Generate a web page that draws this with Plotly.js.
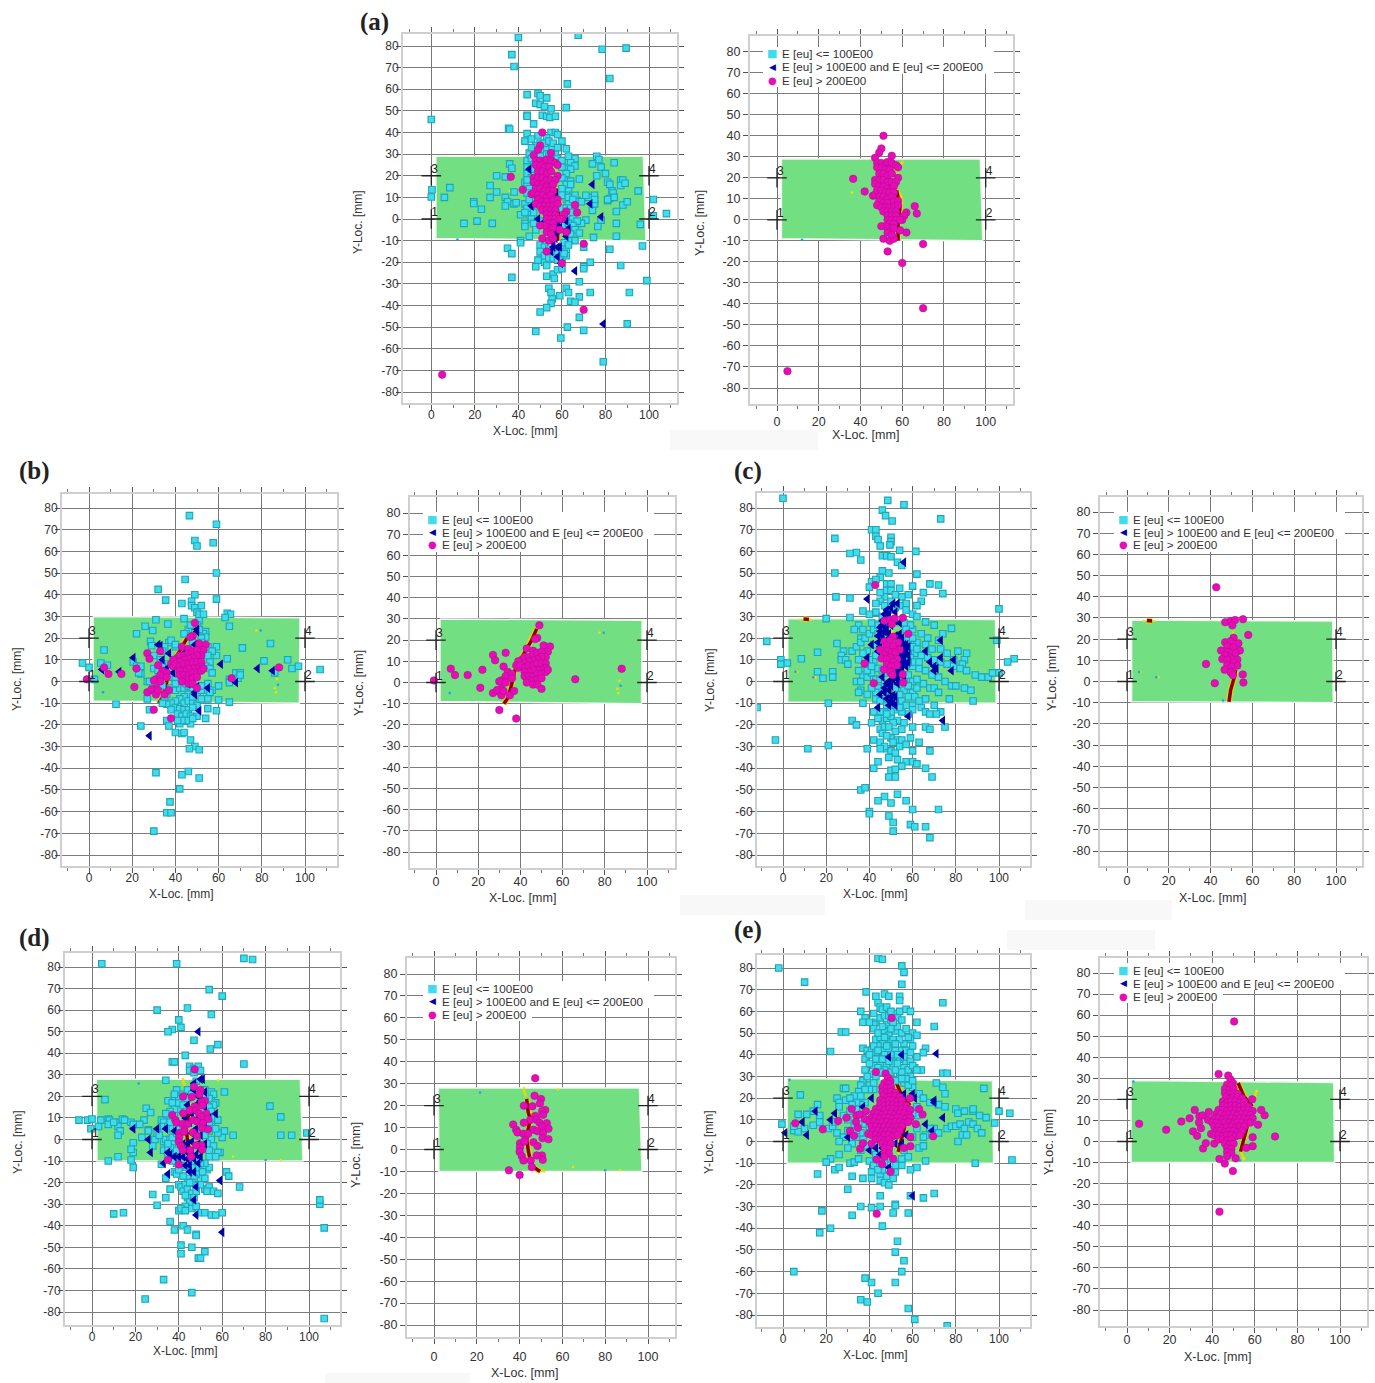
<!DOCTYPE html>
<html lang="en">
<head>
<meta charset="UTF-8">
<title>AE event locations</title>
<script src="https://cdn.plot.ly/plotly-3.0.1.min.js"></script>
<style>
  body { margin: 0; background: #fff; }
</style>
</head>
<body>
<div id="chart" style="width:1375px;height:1383px"></div>
<script>
// sensors and tick labels
var sensorX = [0, 100, 0, 100];
var sensorY = [0, 0, 20, 20];
var sensorLabels = ['1', '2', '3', '4'];
var yTicks = [-80, -70, -60, -50, -40, -30, -20, -10, 0, 10, 20, 30, 40, 50, 60, 70, 80];
var legendLabels = ['E [eu] &lt;= 100E00', 'E [eu] &gt; 100E00 and E [eu] &lt;= 200E00', 'E [eu] &gt; 200E00'];

// (a)
var aLow = [[40,84],[67.5,85],[37,76],[38,70.5],[78.5,78.5],[89.5,79],[82,65],[62.5,62.5],[44,57.5],[49,58],[50,57],[53,56],[48,53.5],[50,53],[52,52],[55,51],[62,51.5],[44,48],[44,47.5],[51,48],[53,47.5],[54.5,47],[57,47.5],[47,44],[35.5,42],[36,41.5],[0,46],[44,39.5],[55,40],[57,40],[58,39],[49,38.5],[53,37.5],[43,36],[60,36],[50,35],[53,33],[55.5,33],[62,32.5],[45,30.5],[48,31],[52,30],[57,30],[63,29],[66,28],[76,29],[77,27.5],[44,27],[47,27],[36,25.5],[37,23.5],[64,26],[66,24.5],[74,25.5],[84,26],[62,23.5],[64,23],[78,24],[80,21],[44,21],[30,20],[34,19.5],[76,20],[43,17],[44,16],[27,15.5],[8.5,14.5],[0.3,13.5],[0,10.2],[6,10],[30,12.5],[38,12.5],[27,10],[34,10],[35,8],[19.5,8],[19.5,7.2],[34,6],[38,7],[39,7.5],[43,7],[23,4.5],[41,2],[45,2],[15,-2],[21,-1],[28,-2],[46,0],[43,-2],[43,-3.5],[45,-8],[41,-10],[41,-11],[35,-13.5],[37,-16],[37,-27],[48,-22],[50,-18.5],[52,-20],[53,-21.5],[53,-26.5],[56,-25.5],[56.5,-27.5],[58,-23.5],[60,-23],
  [62,18],[64,17.5],[68,18.5],[81,17],[82,16],[87,18],[88,18],[87,15.5],[89,16.5],[83,13],[83.5,12],[95,13],[102,9],[108,2.5],[102,1.5],[97,-12.5],[96,-2.5],[85,3.5],[88,6.5],[90,8],[85,-2],[85,-8],[74.5,-8.5],[76.5,-3.5],[74,4],[78,-0.5],[71,-0.5],[67,-2],[69,-2],[75,7],[75,11],[75,9],[72,10],[71,11],[67,8.5],[69,8],[62,12],[63,14],[66,11],[62,9],[63,7],[81,8.5],[82,9.5],[84,10],[81,9],[70,-13],[82,-14],[87,-21.5],[73,-20],[70,-22],[70,-23],[99,-28.5],[91,-34],[73,-34],[68,-29],[68,-36],[62,-32],[63,-34],[64,-38],[66,-38.5],[59,-35.5],[54,-32],[55,-34],[55.5,-37],[55,-39],[53,-41],[50,-43],[48,-52],[62.5,-50],[68,-45.5],[70,-51.5],[90,-48.5],[59.5,-55],[79,-66],
  [46,37],[48,34],[50,32],[52,35],[54,36],[56,35],[58,33],[46,33],[48,29],[46,28],[50,29],[54,29],[58,28],[60,27],[44,24],[46,23],[60,24],[62,21],[46,19],[44,18],[60,19],[62,16],[64,16],[45,14],[44,12],[46,11],[60,14],[60,11],[63,10],[65,9],[45,9],[46,5],[44,5],[43,3],[47,3],[60,5],[62,5],[64,5],[66,5],[64,3],[62,1],[65,0],[67,-1],[47,-2],[48,-5],[50,-1],[61,-3],[63,-2],[65,-3],[66,-5],[64,-7],[68,-6.5],[66,-10],[63,-10],[61,-11],[52,-11],[50,-12],[52,-13],[54,-14],[56,-15],[58,-16],[60,-15],[62,-14],[63,-12],[50,-15],[52,-17],[54,-18],[56,-18],[58,-19],[60,-18],[62,-17],[61,-16],[49,-19]];
var aMid = [[45,23],[46,6],[49,0],[51,-2],[55,-3],[58,-2],[58,-3],[59,-4],[62,-1],[63,-4.5],[62,-8],[57,-9],[56,-11],[56,-13],[58,-13],[59,-13],[55,-15],[58,-17.5],[59.5,-20.5],[66,-24],[79,-48.5],[74,16],[73,7],[78,1],[52,20],[57,-6],[57,-7],[58,-5],[57,11]];
var aHi = [[5,-72],[70,-42],[60,-20.5],[70,-11.5],[53,-15],[36.5,19.5],[42,13.5],[46,11.5],[47,12],[51,40],[50,34],[49,32],[55,30.5],[47,29.5],[66,6.5],[67,3],[62,3.5],[61,2],[62,-6],[51,-9],[54,-10],[56,-9],[60,0],[48,27],[50,27],[52,26],[53,27.5],[55,27],[48,25],[50,24.5],[52,24],[54,24],[57,26],[58,25],[49,22],[51,22],[53,21],[55,22],[58,20],[47,19],[49,19],[51,19],[53,18],[55,18],[57,18],[47,17],[49,16],[51,16],[53,15],[55,15],[56,16],[48,14],[50,14],[52,13],[54,13],[56,13],[49,11],[51,11],[53,10],[55,11],[49,9],[51,8],[53,8],[56,9],[58,9],[48,7],[50,6],[52,6],[54,6],[56,6],[58,7],[51,4],[53,4],[55,4],[57,4],[53,2],[55,2],[57,2],[53,0],[55,0],[57,0],[54,-2],[56,-2],[59,0],[54,-4],[56,-4],[53,-6],[55,-7],[59,-5],[52,-3],[50,-3]];
var aPlate = [[2.1,29],[97.4,29],[98.6,-10],[2.1,-9]];
var aCrack = [[57.3,14],[59,6],[58,0],[58,-10]];
var aCrackTip = [[60.5,28],[55.7,22],[null,null],[57,15],[59.7,11],[60,7]];
var aYellow = [[36,13],[59,24],[58,22]];
var aBlue = [[12,-9.5]];

// (b)
var bLow = [[46.5,76.5],[59,72.5],[49,65],[57.5,64],[50,62.5],[59,50],[44.5,47],[32,42.5],[35.5,37.5],[59,38],[49,40],[47.5,37],[43,36],[47.5,35],[49,34],[52,35],[50,32],[51,31],[53,31],[64,31.5],[65.5,31],[63,29.5],[44,29],[31,28.5],[36.5,26.5],[26,25.5],[65,25.5],[29.5,23.5],[22,22],[54,23],[53,22],[46,24],[45,22],[47,21],[54,20.5],[52,20],[28.5,18.5],[29,16.5],[37,18],[35,16],[40,16],[59,16],[71,15.5],[84,17.5],[7,14.5],[59,12],[64,10.5],[81,9.5],[92,10],[56,9],[54,7],[5.5,8.5],[8.5,7.5],[-3,8.5],[0,6.5],[20.5,9],[22,7],[24,7],[24,3.5],[94,6],[97,7],[107,5.5],[2.5,1],[27,0],[28,0],[68,4],[70,4],[69,1.5],[70,3],[65,1],[65,-0.5],[86,4],[60,-2],[57,-4],[54,-4],[56,-5],[55,-8],[60,-8.5],[65,-9.5],[27,-8],[12.5,-10.5],[28,-13],[55,-12.5],[59,-13.5],[50,-16],[54,-17],[36,-18],[37,-20.5],[24,-20.5],[47,-19.5],[42,-19.5],[40,-23.5],[43,-24],[44,-23.5],[47,-27],[49,-30],[46.5,-31],[51,-31.5],[46,-41.5],[43,-43],[31,-42],[51,-44.5],[42,-49.5],[37.5,-55.5],[36,-60.5],[38,-60.5],[30,-69],
  [38,19],[40,17],[34,14],[30,12],[33,10],[36,8],[38,6],[36,3],[38,2],[40,1],[34,-2],[38,-3],[40,-4],[42,-3],[44,-3],[46,-2],[48,-4],[50,-6],[46,-6],[44,-7],[42,-8],[40,-9],[38,-10],[36,-10.5],[34,-10],[44,-10],[46,-9],[48,-10],[50,-11],[40,-12],[42,-12.5],[44,-13],[46,-13],[48,-12],[38,-13],[41,-15],[43,-16],[45,-15],[47,-16],[48,-17],[45,-18],[43,-18],[41,-18],[48,-7],[52,-8],[52,-4],[51,28],[50,26],[51,24],[47,26],[44,22],[48,18],[52,18],[55,16],[57,14],[55,12],[56,6],[57,4],[47,-1],[45,-1],[40,-1],[36,-6],[35,-7],[30,6],[32,5],[34,7],[23,4],[55,-1],[52,-2]];
var bMid = [[32,17],[33,16.5],[37,13],[20.5,11],[34,10],[6,5.5],[14,4.5],[36,6],[39,4],[50,-2.5],[49,-5],[49,-6],[46,-1],[55,-3],[51,-13.5],[61,8],[78,6],[85,5],[68,-0.5],[28,-25],[50,24],[50,23],[49,17],[44,13]];
var bHi = [[-1,1],[7,6.5],[9,3.5],[15,3.5],[22,6],[21,-2.5],[27,13],[28,10.5],[33,14],[32,7.5],[34,5],[33,3],[31,1],[30,0.5],[33,0],[31,-3],[29,-4],[27,-5],[29,-3.5],[31,-6],[32,-4],[35,-6],[37,-4],[30,-13],[38,-17],[49,27],[48,21],[47,20.5],[43,16],[46,15],[41,11],[39,10],[38,8],[39,7],[42,12],[44,12],[46,13],[48,14],[51,17.5],[54,17],[53,14.5],[50,14.5],[52,12],[50,12],[48,11],[46,10.5],[44,10],[42,9],[40,8],[42,7],[44,8],[46,8],[48,9],[50,9],[52,9],[52,7],[50,6],[48,6],[46,6],[44,5],[42,5],[42,3],[44,3],[46,3],[48,4],[50,4],[52,5],[53,6],[44,1],[46,1],[48,1.5],[50,2],[43,0],[46,-1],[48,-1],[50,-3],[66,1.5],[88,6.5],[36,4],[36,2]];
var bPlate = [[1.9,30],[97.7,29.4],[97.4,-10],[1.9,-9]];
var bCrack = [[47.7,25.3],[45.3,19.8],[43,16],[39.8,10.4],[37.4,5.7],[35.9,-0.6],[34.3,-6.9],[32.2,-10]];
var bCrackTip = [[48,26.5],[47,23],[44.5,18],[null,null],[38,7],[36.5,3]];
var bYellow = [[87,1],[86,-3],[86.5,-5],[77.5,23.5]];
var bBlue = [[79.5,23.5],[6.5,-5],[87.5,-1.5]];

// (c)
var cLow = [[0,84.5],[48.5,83.5],[56,81.5],[46,79],[47.5,76.5],[50.5,74],[73,75],[41,70],[43,70],[43,67],[44,65.5],[50,66.5],[50,64.5],[49.5,63],[24,66],[45,62.5],[54,60.5],[61.5,60],[34,59.5],[31,59],[36,56],[46,58],[48,58],[50,57.5],[53,55],[55,53.5],[24,50],[46,51],[49,50],[62,49.5],[45,48],[41,46],[40,43.5],[43,47],[48,45],[50,45],[48,42],[50,42],[54,43],[60,44],[68,45],[72,44.5],[65,41],[74,40.5],[24.5,39],[31,38.5],[47,39],[45,37],[43,36],[58,40],[55,39],[64,37],[57,36],[62,35],[37,32.5],[43,32],[40,31],[60,31],[62,30],[20,29],[31,29.5],[100,33.5],[66,27.5],[70,26],[78,24.5],[35,26],[37,24],[33,24],[36,20],[25,17.5],[-7.5,18.5],[99,19],[107,10.5],[104,9],
  [16,13.5],[8.5,10.5],[-1,10],[-1,8],[2,8.5],[28,14],[32,14],[27,12],[27,10],[29,10],[30,8],[39,14],[37,13],[35,10],[16,4.5],[23,4.5],[23,2],[18.5,1.5],[-12,-12],[-3.5,-27],[11.5,-31],[21,-29.5],[21,-10],[37,-10],[43,-8],[36,-4],[35,-5],[34,0],[36,0],[37,3],[35,5],[39,2],[41,4],[43,1],[44,-3],[34,16],[36,18],[38,20],[40,22],[42,24],[44,22],[60,24],[64,22],[67,20],[72,19],[74,22],[62,18],[66,17],[69,15],[73,15],[76,13],[81,14],[85,13],[79,10],[84,10],[83,8],[61,13],[64,12],[67,11],[70,10],[73,9],[76,8],[79,7],[82,6],[85,5],[89,3],[92,2],[95,2],[97,4],[100,4],[60,7],[63,6],[66,5],[69,3],[72,2],[75,0],[78,-2],[80,-2],[84,-3],[87,-4],[88,-9],[77,-8],[66,-8],[60,-5],[62,-3],[65,-1],[68,-3],[70,-3],[72,-5],[56,-4],[58,-7],[55,-9],[60,-11],[70,-11],[73,-14],[64,-12],[66,-14],[68,-15],[71,-15],[75,-21],[66,-21],[68,-22],[60,-13],[58,-15],[55,-14],[52,-13],[49,-12],[47,-14],[45,-14],[42,-14],[41,-19],[32,-18],[34,-20],[46,-18],[48,-17],[50,-16],[53,-18],[56,-19],[60,-21],[45,-22],[47,-21],[46,-24],[42,-27],[45,-28],[50,-26],[53,-27],[55,-27],[59,-26],[63,-28],[39,-31],[48,-31],[50,-32],[52,-33],[49,-35],[68,-32],[57,-37],[60,-37],[62,-38],[66,-40],[69,-44],[42,-40],[50,-41],[52,-40.5],[55,-39],[49,-44],[52,-44],[36,-50],[38,-49],[47,-53],[44,-55],[50,-56],[53,-52],[57,-55],[60,-59],[72,-59],[40,-60],[40,-61],[49,-62],[51,-65],[59,-66],[61,-67],[66,-67],[51,-69],[68,-72],
  [46,30],[48,31],[50,33],[52,34],[54,35],[57,33],[59,26],[56,27],[57,24],[46,25],[44,26],[42,17],[43,12],[42,9],[44,6],[46,5],[48,4],[45,1],[47,-1],[50,-2],[54,2],[56,0],[58,3],[60,0],[62,1],[57,9],[59,11],[61,9],[63,9],[56,14],[58,15],[60,16],[62,15],[56,19],[58,19],[60,20],[54,-6],[50,-7],[47,-8],[45,-9],[52,-10],[48,-11],[50,-14],[41,27],[47,35],[50,37],[45,41],[52,40],
  [40,10],[38,8],[39,5],[41,7],[43,-5],[41,-3],[39,-6],[52,-3],[58,-2],[61,-7],[63,-9],[57,-11],[54,-12],[48,-15],[44,-17],[51,-19],[49,-21],[52,-23],[55,-22],[48,-25],[51,-28],[47,-30],[54,-30],[57,-29],[45,-31],[53,-36],[44,-37],[60,-32]];
var cMid = [[56,55],[39,38],[51,36],[53,36],[49,29],[46,26],[47,26],[45,25],[47,23],[49,22],[46,21],[41,17],[44,14],[39,11],[55,18],[57,17],[54,16],[56,14],[57,13],[56,11],[54,9],[55,7],[53,5],[52,4],[53,3],[49,0],[48,-1],[50,-2],[56,0],[53,-1],[47,-5],[50,-7],[51,-6.5],[50,-9],[51,-10],[52,-11],[58,-16],[74,-18],[66,14],[73,11],[79,10],[68,9],[70,7],[71,6],[70,5],[78,5],[73,19],[54,18],[55,20],[44,-12],
  [48,33],[50,34],[52,32],[47,31],[49,31],[46,28],[48,28],[50,26],[52,28],[54,27],[45,23],[48,24],[44,21],[46,19],[49,20],[52,21],[54,22],[44,18],[45,16],[54,20],[56,17],[58,16],[55,13],[57,15],[58,12],[54,11],[56,9],[58,9],[55,5],[57,7],[53,1],[55,3],[51,1],[46,2],[47,-3],[49,-4],[45,-6],[48,-8],[49,-11],[52,-7]];
var cHi = [[42.7,44.5],[55.5,29.4],[47,28],[49.6,28.5],[51.7,29],[50.4,26.5],[58,22],[51,20.6],[47,18.5],[49.6,19],[53.3,18],[48,16.7],[51,16.3],[45,14.6],[48,14],[54,14.6],[50.4,13.5],[52,13.5],[47,12.4],[49.6,11],[45.6,10.6],[48,10.3],[52.8,10.3],[51,9],[37.8,8.3],[48,8],[52.8,7.5],[50,7],[46.7,5.5],[50.4,4.8],[49.6,4.3],[55.4,3.3],[50.7,3],[42,-0.8],[55.7,-0.5]];
var cPlate = [[2.2,29],[98.4,28.6],[98.7,-10],[2.2,-9.5]];
var cCrack = [[48.8,-9.5],[49.6,-4],[51.2,1.6],[52,5.5],[null,null],[9.5,28.8],[12,28.6]];
var cCrackTip = [[50.4,21.4],[50.7,23.8],[null,null],[48.4,-9],[49,-3],[50.5,1]];
var cYellow = [[6.5,4.5],[15,2],[13,28.5],[8,28.5]];
var cBlue = [[5.8,4.5],[14,2],[46,-9]];

// (d)
var dLow = [[4.5,81.5],[39,81.5],[70,84],[74,83.5],[54,69.5],[60,66.5],[44,61],[55,58],[30,60],[40,55.5],[41,52],[37,51],[35,50],[47,46],[58,44],[54.5,42],[43,39],[37,36],[38,36],[70,35],[45,34],[47,33],[49,34],[45,32],[47,31],[50,32],[34,27.5],[48,27],[61,22],[52,23],[55,22],[56,21],[38,20],[40,19],[6,18.5],[35,18],[37,17],[55,18],[57,17],[82,15.5],[25,14.5],[27,12.5],[36,11],[87,10.5],[-6,9],[-2,9],[0,9.5],[4,9],[7.5,9.5],[8,9],[11,8],[14,9.5],[15,9],[18,8],[24,9],[32,9],[33,8],[3,6],[-0.5,5],[7.5,7],[12,6],[10,8],[19,7],[22,7],[26,4.5],[13,4],[12,2],[87,2],[92,2],[99,3],[65,2],[60,1],[61,4],[58,3],[23,1],[26,4],[29,0],[19,-1.5],[28,-3],[33,-1],[34,0],[36,0],[19,-6],[18,-4.5],[7.5,-10],[12,-8],[18,-9.5],[19,-13],[32,-11.5],[34,-18],[36,-23],[28,-25.5],[34,-27],[30,-30.5],[10,-34.5],[14.5,-34],[36,-38],[40,-21],[41,-22],[43,-21],[42,-24],[44,-23],[46,-25],[52,-23],[54,-22],[53,-24],[56,-24],[58,-25],[68,-22],[44,-27],[45,-29],[43,-31],[40,-33],[41,-32],[43,-33],[46,-32],[48,-31],[49,-34],[52,-34],[55,-35],[57,-35],[60,-34],[42,-40],[44,-42],[38,-42],[48,-44],[48,-44.5],[41,-49],[46,-50],[41,-53],[52,-52],[49,-55],[50,-55],[33,-65],[24.5,-74],[46,-71],[105,-30],[105,-28],[107,-41],[107,-83],[62,-15],[63,-17],[53,-14],[52,-13],[54,-13],[50,-18],[52,-18],[48,-16],[38,-15],[39,-16],
  [39,23],[38,21],[42,21],[44,19],[47,25],[54,19],[56,16],[58,9],[59,-6],[55,0],[56,-3],[58,-6],[57,-8],[54,-8],[52,-11],[50,-11],[48,-13],[46,-13],[43,-13],[41,-12],[39,-11],[37,-10],[35,-8],[33,-5],[35,-4],[37,-3],[38,-7],[38,-1],[40,14],[38,14],[36,13],[34,12],[33,6],[35,6],[37,5],[30,3],[31,2],[55,6],[57,5],[54,4],[52,2],[53,-2],[54,-5],
  [40,17],[42,16],[44,23],[46,21],[52,20],[54,15],[55,13],[55,10],[54,8],[38,11],[36,8],[39,6],[37,1],[39,3],[35,-2],[39,-5],[41,-8],[46,-10],[49,-9],[51,-15],[47,-18],[44,-18],[42,-17],[46,-20],[50,-21],[43,-26],[47,-27],[48,-24],[45,-20],[40,-14]];
var dMid = [[49,50],[50,28],[51,28],[47,26],[52,22],[57,12],[54,10],[30,5],[34,5],[19,5],[38,4],[26,0],[46,3],[50,2],[27,-6],[35,-6],[36,-7],[40,-8],[42,-8],[44,-9],[48,-7],[50,-8],[33,-11],[43,-12],[45,-12],[45,-15],[47,-15],[35,-16],[59,-19],[48,-22],[47,-28],[48,-35],[60,-43],[52,-2],[43,-5],[46,12],[49,10],[52,6],
  [47,23],[49,20],[50,18],[52,15],[48,16],[44,16],[43,10],[45,8],[48,5],[46,-1],[44,-2],[42,-2],[49,-2],[50,-5],[46,-6],[44,-6],[38,-8],[49,-11],[47,-9]];
var dHi = [[47.3,32.5],[47,24.5],[50,23],[49.5,21],[42,20],[46,19.7],[52,18],[50.5,17.4],[47.3,15.3],[51,15.8],[45,13.5],[42,12.2],[37,11.4],[48,13.5],[49.3,12.2],[52.7,12],[50.5,10.6],[38.4,9],[46.5,9],[53.5,9.5],[48.4,8.3],[39,7.8],[41.8,7.2],[44,7.2],[51,7.5],[50.7,5.2],[53.5,4.7],[42.6,4.4],[40.2,2.8],[46.5,3.3],[48.4,1.6],[40.2,1],[42.3,3.6],[40,-1],[41,-3],[41.8,-5],[50.4,-2.7],[48,-2.7],[50.8,-4.7],[45.2,-5],[45.7,-8],[35,-9.5],[40,-11.6]];
var dPlate = [[2,28],[96,28],[97.2,-10],[2.3,-10]];
var dCrack = [[43.3,23],[44,17],[45,13.8],[43.3,6],[44,-0.3],[45,-5],[46.5,-8],[49.6,-10]];
var dCrackTip = [[41.8,27.5],[43,24],[null,null],[46,-8.5],[52,-10]];
var dYellow = [[42,28],[58,27.5],[65,-8],[80,-9.5],[87,-9.5]];
var dBlue = [[21.5,26],[80,-9.5]];

// (e)
var eLow = [[-2,80],[10,73.5],[44,84.5],[46,84],[55,81],[56,78],[55,72.5],[38.5,69],[47,68],[43,67],[49,67],[54,67],[54,65],[74,64],[44,64],[45,62],[42,59],[36,60],[38,57],[37,55],[43,55],[45,57],[47,58],[52,59],[54,60],[57,61],[59,60],[53,57],[55,56],[48,54],[50,56],[42,54],[62,55],[70,53],[27,50.5],[29,50.5],[47,51],[49,49],[52,51],[60,50],[62,49],[43,47],[45,48],[48,47],[50,46],[59,47],[60,44],[37,43],[39,42],[41,42],[43,41],[46,42],[49,43],[52,42],[56,45],[66,43],[22,41.5],[38,38],[41,40],[44,38],[47,40],[51,39],[54,38],[57,37],[62,39],[65,41],[45,36],[48,35],[51,36],[56,34],[58,33],[61,34],[38,33],[41,31],[43,30],[50,32],[54,31],[59,30],[64,33],[74,31.5],[76,31.5],[37,28],[40,26],[42,24],[35,23],[33,21],[28,24.5],[29,24.5],[8,21.5],[71,27],[74,25],[75,22],[93,24.5],[25,20],[26,18],[29,19],[31,20],[26,16],[16,17],[14,14],[38,18],[36,17],[34,15],[60,25],[63,22],[65,20],[68,18],[72,17],[75,16],[80,15],[81,13],[84,14],[88,14],[88,15],[91,12],[94,11],[100,14],[105,13],[98,8.5],[7,12.5],[11,12.5],[17,12],[5,5],[7,4.5],[5,7],[-0.5,8],[10,6],[14,7.5],[17,9],[21,6],[23,7],[25,4],[28,2],[30,5],[32,1],[34,2],[26,0],[70,6],[72,4],[66,3],[68,6],[65,2],[63,-3],[65,-2],[76,6],[78,7],[80,7],[82,8],[84,6],[86,9],[88,8],[90,6],[92,4],[81,0],[83,3],[85,3],[66,-9],[89,-10],[106,-8.5],[22,-8],[20,-9.5],[26,-6],[31,-10],[33,-9.5],[16,-15],[24,-13],[26,-12],[32,-16],[37,-17],[41,-14],[41,-17],[45,-15],[45,-18],[48,-16],[51,-17],[52,-14],[50,-13],[55,-11],[59,-13],[62,-12],[30,-22],[45,-25],[59,-25],[65,-26],[70,-24],[36,-30],[41,-30.5],[45,-30],[52,-29],[52,-29.5],[18,-32],[32,-34],[51,-33],[58,-33],[46,-39],[17,-42],[22,-40],[53,-46],[52,-51],[56,-55],[55,-60],[5,-60],[38,-63],[41,-65],[52,-65],[36,-73],[39,-74],[44,-70],[58,-77],[61,-82],[76,-85],
  [36,11],[38,8],[40,7],[36,4],[34,5],[33,8],[37,1],[39,-2],[36,-4],[32,-1],[30,-3],[35,-8],[40,-9],[43,-6],[47,-10],[50,-8],[55,-8],[58,-7],[56,-4],[60,2],[62,6],[62,12],[60,13],[62,16],[42,27],[40,24],[54,29],[56,27],[58,26],[52,28],
  [40,55],[42,52],[44,50],[46,53],[50,52],[53,53],[55,50],[57,52],[58,48],[47,48],[51,47],[54,47],[46,45],[48,44],[44,44],[42,44],[40,40],[44,42],[52,45],[55,42],[57,42],[59,41],[50,40],[53,40],[43,38],[46,38],[49,37],[53,36],[56,39],[59,37],[42,35],[44,34],[47,33],[52,33],[55,32],[60,35],[62,33],[40,36],[39,30],[45,32],[57,29],[60,28],[55,29],[49,58],[51,55],[46,61],[48,62],[50,60],[36,26],[38,24],[34,18],[32,17],[31,14],[28,12],[30,10],[24,9],[36,21],[44,-11],[46,-13],[42,-11],[47,-19],[49,-20],[44,-13],[52,-11]];
var eMid = [[49,39],[55,40],[71,40.5],[41,20],[37,16],[15,14],[24,13],[22,10],[9,9],[1,4],[11,3],[30,2],[46,20],[56,22],[60,22],[61,20],[70,19],[70,18],[74,11],[66,8],[69,5],[52,-1],[48,2],[46,-3],[40,-4],[43,-3],[55,-1],[49,-12],[60,-25],[57,3],[48,-4],[45,-6]];
var eHi = [[50.3,57],[43.4,-33.3],[43,32],[47.5,31.3],[48.6,29.4],[49.7,27.8],[5.7,8.4],[18.4,5.6],[25.5,9.5],[29.4,11],[31.8,15],[31,4.8],[32.9,2.7],[35.7,-3.3],[37,-0.8],[34,12],[35.5,12.4],[33.8,9],[34.7,6.3],[38.4,14],[38,10.3],[39.5,3.6],[41,-1],[49.7,-14],[45.9,-10.5],[43.4,-8.3],[51,-8],[56,-3],[59,-2.2],[59,2],[69.5,2.4],[61.5,8],[64.6,12.5],[63,15],[58.8,20],
  [47,27],[49,26.5],[46,25],[48,24.5],[50,25],[46,23],[48,22.5],[50,23],[52,22.5],[46.5,21],[48.5,20.5],[50,21],[52,21],[54,20.5],[45,19],[47,18.5],[49,19],[51,19],[53,18.5],[55,19],[45,17],[47,16.5],[49,17],[51,17],[53,16.5],[55,17],[57,16.5],[43,15],[45,15],[47,14.5],[49,15],[51,15],[53,14.5],[55,15],[57,15],[59,14.5],[42,13],[44,13],[46,12.5],[48,13],[50,13],[52,12.5],[54,13],[56,13],[58,12.5],[41,11],[43,11],[45,10.5],[47,11],[49,11],[51,10.5],[53,11],[55,11],[57,10.5],[59,11],[40,9],[42,9],[44,8.5],[46,9],[48,9],[50,8.5],[52,9],[54,9],[56,8.5],[58,9],[41,7],[43,7],[45,6.5],[47,7],[49,7],[51,6.5],[53,7],[55,7],[42,5],[44,5],[46,4.5],[48,5],[50,5],[52,4.5],[54,5],[41,3],[43,3],[45,2.5],[47,3],[49,3],[51,2.5],[53,3],[43,1],[45,1],[47,0.5],[49,1],[46,-1],[48,-1.5],[50,-1],[47,-3],[49,-3.5],[47,-5],[49,-5.5],[47,-7]];
var ePlate = [[1.9,29],[97,28],[97.5,-10],[1.9,-10]];
var eCrack = [[52.2,27.8],[54.9,21.4],[58.8,16.7],[null,null],[56.4,7],[54,-2.4],[53.3,-4.8],[null,null],[50,-2.4],[47,-8]];
var eCrackTip = [[60.5,24],[60,20],[null,null],[53.5,-5],[55,-9]];
var eYellow = [[61,24],[60,21.5],[55,-8]];
var eBlue = [[3,28.5],[53,-9]];

var lowSets = [aLow, aLow, bLow, bLow, cLow, cLow, dLow, dLow, eLow, eLow];
var midSets = [aMid, aMid, bMid, bMid, cMid, cMid, dMid, dMid, eMid, eMid];
var hiSets = [aHi, aHi, bHi, bHi, cHi, cHi, dHi, dHi, eHi, eHi];
var crackSets = [aCrack, aCrack, bCrack, bCrack, cCrack, cCrack, dCrack, dCrack, eCrack, eCrack];
var tipSets = [aCrackTip, aCrackTip, bCrackTip, bCrackTip, cCrackTip, cCrackTip, dCrackTip, dCrackTip, eCrackTip, eCrackTip];
var yellowSets = [aYellow, aYellow, bYellow, bYellow, cYellow, cYellow, dYellow, dYellow, eYellow, eYellow];
var blueSets = [aBlue, aBlue, bBlue, bBlue, cBlue, cBlue, dBlue, dBlue, eBlue, eBlue];
var plateSets = [aPlate, aPlate, bPlate, bPlate, cPlate, cPlate, dPlate, dPlate, ePlate, ePlate];

// pixel geometry of each panel: frame left, right, top, bottom, then where x=0, x=100, y=80, y=-80 sit
var panelBox = [
  [403, 677, 34, 403, 431.3, 649, 46, 392],
  [750, 1013, 36, 404, 777, 985.7, 51.7, 388],
  [62, 337, 494, 866, 89, 305, 508, 855],
  [410, 675, 497, 868, 436, 647, 513, 852],
  [757, 1030, 493, 866, 783, 999, 508, 855],
  [1100, 1362, 497, 866, 1127, 1336, 512, 851],
  [65, 340, 953, 1325, 92, 309, 967, 1312],
  [407, 675, 958, 1337, 434, 648, 974, 1325],
  [757, 1030, 955, 1327, 783, 999, 968, 1315],
  [1100, 1367, 958, 1326, 1127, 1340, 973, 1310]
];
// where the axis titles sit, and how far the x tick labels are pulled in
var xTitleX = [525, 865, 182, 522, 875, 1212, 185, 524, 875, 1217];
var xTitleY = [431, 435, 894, 898, 894, 898, 1351, 1373, 1355, 1357];
var yTitleX = [358, 700, 17, 359, 710, 1052, 18, 356, 709, 1049];
var yTitleY = [222, 223, 679, 683, 680, 678, 1142, 1155, 1142, 1142];
var xTickShift = [-5, 0, -5, -4, -5, -3, -5, 2, -5, -4];
var W = 1375, H = 1383;
function px(v) { return v / W; }
function py(v) { return 1 - v / H; }
function col(rows, n) { return rows.map(function (r) { return r[n]; }); }

var traces = [];
var layout = {
  width: W, height: H, margin: {l: 0, r: 0, t: 0, b: 0},
  paper_bgcolor: '#fff', plot_bgcolor: '#fff', showlegend: false,
  font: {family: '"Liberation Sans", Arial, sans-serif', color: '#333', size: 12},
  annotations: [], shapes: []
};

panelBox.forEach(function (b, i) {
  var n = i === 0 ? '' : String(i + 1);
  var xs = (b[5] - b[4]) / 100, ys = (b[7] - b[6]) / 160;
  var isRight = i % 2 === 1;
  var tickSize = isRight ? 12.5 : 12;
  layout['xaxis' + n] = {
    domain: [px(b[0]), px(b[1])], anchor: 'y' + n,
    range: [(b[0] - b[4]) / xs, (b[1] - b[4]) / xs],
    tick0: 0, dtick: 20, ticks: 'outside', ticklen: 5, tickcolor: '#555', tickwidth: 1,
    ticklabelstandoff: xTickShift[i],
    minor: {dtick: 10, ticks: 'outside', ticklen: 3, tickcolor: '#777', showgrid: false},
    showline: true, linecolor: '#cfcfcf', linewidth: 2, mirror: 'ticks',
    showgrid: true, gridcolor: '#777', gridwidth: 1, zeroline: false,
    tickfont: {size: tickSize, color: '#333'}
  };
  layout['yaxis' + n] = {
    domain: [py(b[3]), py(b[2])], anchor: 'x' + n,
    range: [-80 - (b[3] - b[7]) / ys, 80 + (b[6] - b[2]) / ys],
    tickmode: 'array', tickvals: yTicks, ticktext: yTicks.map(String),
    ticks: 'outside', ticklen: 5, tickcolor: '#555', tickwidth: 1,
    ticklabelstandoff: isRight ? 0 : -5,
    showline: true, linecolor: '#cfcfcf', linewidth: 2, mirror: 'ticks',
    showgrid: true, gridcolor: '#7d7d7d', gridwidth: 1, zeroline: false,
    tickfont: {size: tickSize, color: '#333'}
  };
  // axis titles sit off-centre in the source, so they are placed by hand
  var titleSize = isRight ? 12.5 : 12;
  layout.annotations.push({xref: 'paper', yref: 'paper', x: px(xTitleX[i]), y: py(xTitleY[i]), showarrow: false,
    text: 'X-Loc. [mm]', xanchor: 'center', yanchor: 'middle', font: {size: titleSize, color: '#333'}});
  layout.annotations.push({xref: 'paper', yref: 'paper', x: px(yTitleX[i]), y: py(yTitleY[i]), showarrow: false,
    text: 'Y-Loc. [mm]', textangle: -90, xanchor: 'center', yanchor: 'middle', font: {size: titleSize, color: '#333'}});

  var ax = {xaxis: 'x' + n, yaxis: 'y' + n, hoverinfo: 'skip', showlegend: false};
  function add(t) { traces.push(Object.assign({}, ax, t)); }

  // specimen plate, closed polygon
  var plate = plateSets[i].concat([plateSets[i][0]]);
  add({type: 'scatter', mode: 'lines', x: col(plate, 0), y: col(plate, 1), fill: 'toself',
       fillcolor: '#72df82', line: {color: '#f4f4f4', width: 1.5}});
  // crack, yellow rim under dark red core
  add({type: 'scatter', mode: 'lines', x: col(tipSets[i], 0), y: col(tipSets[i], 1),
       line: {color: '#f2d400', width: 2.5}});
  add({type: 'scatter', mode: 'lines', x: col(crackSets[i], 0), y: col(crackSets[i], 1),
       line: {color: '#f2d400', width: 5.5}});
  add({type: 'scatter', mode: 'lines', x: col(crackSets[i], 0), y: col(crackSets[i], 1),
       line: {color: '#8a0000', width: 3.5}});
  add({type: 'scatter', mode: 'markers', x: col(yellowSets[i], 0), y: col(yellowSets[i], 1),
       marker: {color: '#f2e200', size: 2.5}});
  add({type: 'scatter', mode: 'markers', x: col(blueSets[i], 0), y: col(blueSets[i], 1),
       marker: {color: '#1e9cf0', size: 2.5}});
  // the right-hand panels only keep the high energy events
  if (!isRight) {
    add({name: 'E <= 100E00', type: 'scatter', mode: 'markers', x: col(lowSets[i], 0), y: col(lowSets[i], 1),
         marker: {symbol: 'square', color: '#3fdcec', size: 6.5, line: {color: '#1fa5b5', width: 1.1}}});
    add({name: 'E 100-200E00', type: 'scatter', mode: 'markers', x: col(midSets[i], 0), y: col(midSets[i], 1),
         marker: {symbol: 'triangle-left', color: '#0000a8', size: 8.5, line: {width: 0}}});
  }
  add({name: 'E > 200E00', type: 'scatter', mode: 'markers', x: col(hiSets[i], 0), y: col(hiSets[i], 1),
       marker: {color: '#e80cb6', size: 7.5, line: {color: '#b0108e', width: 0.6}}});
  // sensors: cross, and its number just up and right of it
  add({type: 'scatter', mode: 'markers', x: sensorX, y: sensorY, cliponaxis: false,
       marker: {symbol: 'cross-thin', size: 14, line: {color: '#222', width: 1.3}}});
  add({type: 'scatter', mode: 'text', x: sensorX, y: sensorY, text: sensorLabels,
       textposition: 'top right', textfont: {size: 12, color: '#222'}, cliponaxis: false});
});

// legends sit over the grid on a white patch: [key x, text x, first row y]
var legendPos = [[772, 782, 54], [432, 442, 519], [1123, 1133, 519], [432, 442, 988], [1123, 1133, 970]];
var keyGlyphs = ['■', '◀', '●'];
var keyColors = ['#3fdcec', '#0000a8', '#e80cb6'];
var keySizes = [11, 9, 10];
legendPos.forEach(function (p) {
  layout.shapes.push({type: 'rect', xref: 'paper', yref: 'paper', layer: 'above', line: {width: 0}, fillcolor: '#fff',
    x0: px(p[0] - 9), x1: px(p[1] + 212), y0: py(p[2] - 7), y1: py(p[2] + 20)});
  layout.shapes.push({type: 'rect', xref: 'paper', yref: 'paper', layer: 'above', line: {width: 0}, fillcolor: '#fff',
    x0: px(p[0] - 9), x1: px(p[1] + 90), y0: py(p[2] + 20), y1: py(p[2] + 33)});
  legendLabels.forEach(function (t, k) {
    var rowY = p[2] + k * 13;
    layout.annotations.push({xref: 'paper', yref: 'paper', x: px(p[0]), y: py(rowY), showarrow: false,
      text: keyGlyphs[k], xanchor: 'center', yanchor: 'middle',
      font: {size: keySizes[k], color: keyColors[k], family: '"DejaVu Sans"'}});
    layout.annotations.push({xref: 'paper', yref: 'paper', x: px(p[1]), y: py(rowY), showarrow: false,
      text: t, xanchor: 'left', yanchor: 'middle', xshift: -2, font: {size: 11.7, color: '#333'}});
  });
});

// panel letters
var panelLetters = ['(a)', '(b)', '(c)', '(d)', '(e)'];
var letterX = [374, 34, 748, 34, 748];
var letterY = [22, 471, 471, 938, 930];
panelLetters.forEach(function (t, k) {
  layout.annotations.push({xref: 'paper', yref: 'paper', x: px(letterX[k]), y: py(letterY[k]), showarrow: false,
    xanchor: 'center', yanchor: 'middle',
    text: '<b>' + t + '</b>', font: {family: '"Liberation Serif", serif', size: 25, color: '#222'}});
});

// faint leftover patches in the page
var patchX0 = [670, 680, 1025, 1007, 325];
var patchX1 = [818, 825, 1172, 1155, 470];
var patchY0 = [430, 895, 900, 930, 1373];
var patchY1 = [450, 915, 920, 950, 1383];
patchX0.forEach(function (x, k) {
  layout.shapes.push({type: 'rect', xref: 'paper', yref: 'paper', layer: 'below', line: {width: 0}, fillcolor: '#f8f8f8',
    x0: px(x), x1: px(patchX1[k]), y0: py(patchY0[k]), y1: py(patchY1[k])});
});

Plotly.newPlot('chart', traces, layout, {displayModeBar: false, staticPlot: true});
</script>
</body>
</html>
